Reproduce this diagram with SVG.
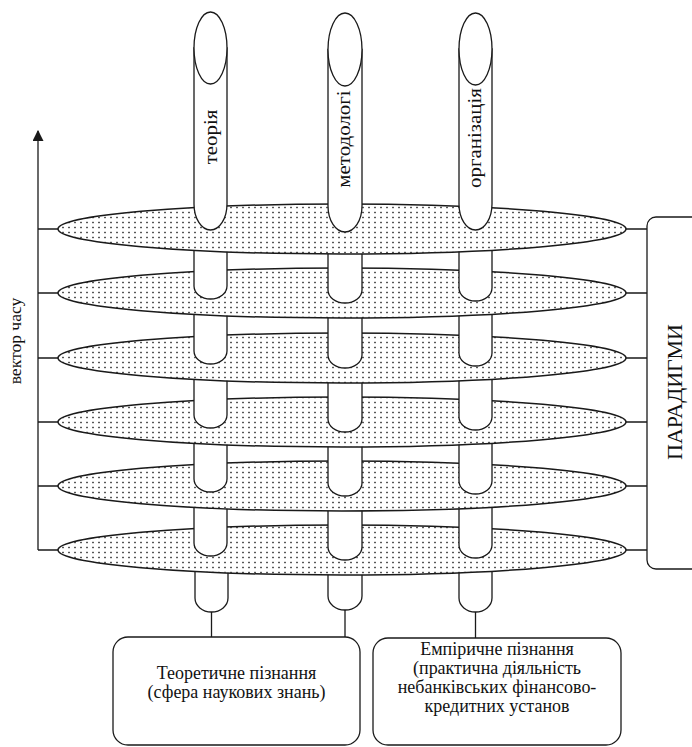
<svg xmlns="http://www.w3.org/2000/svg" width="692" height="747" viewBox="0 0 692 747">
<defs>
<pattern id="dots" width="6" height="5" patternUnits="userSpaceOnUse">
<rect width="6" height="5" fill="#fff"/>
<rect x="2.3" y="1.8" width="1.4" height="1.4" fill="#111"/>
</pattern>
<marker id="arr" viewBox="0 0 10 10" refX="9" refY="5" markerWidth="11" markerHeight="11" markerUnits="userSpaceOnUse" orient="auto">
<path d="M0,0 L10,5 L0,10 Z" fill="#1a1a1a"/>
</marker>
</defs>
<style>
.ln{stroke:#1a1a1a;stroke-width:1.3;fill:none}
.ell{fill:url(#dots);stroke:#1a1a1a;stroke-width:1.5}
.wh{fill:#fff;stroke:#1a1a1a;stroke-width:1.3}
.t{font-family:"Liberation Serif","Times New Roman",serif;fill:#111;text-anchor:middle}
.tb{font-size:18px}
.tc{font-size:19px}
</style>

<g id="connectors">
<line class="ln" x1="38" y1="550" x2="38" y2="131" marker-end="url(#arr)"/>
<path class="ln" d="M38,229H60M38,293H60M38,358H60M38,422H60M38,486H60M38,550H60"/>
<path class="ln" d="M624,229H647M624,293H647M624,358H647M624,422H647M624,486H647M624,550H647"/>
<path class="ln" d="M211.5,612V637M345,610V637M475.5,612V638"/>
</g>

<g id="roots">
<path class="wh" d="M195,550V598A16.5,14 0 0 0 228,598V550Z"/>
<path class="wh" d="M328,550V596A17,14 0 0 0 362,596V550Z"/>
<path class="wh" d="M459,550V598A16.5,14 0 0 0 492,598V550Z"/>
</g>

<g id="paradigm6"><ellipse class="ell" cx="342" cy="550" rx="284" ry="25"/></g>
<g id="links5">
<path class="wh" d="M194,486V543A16.5,13 0 0 0 227,543V486Z"/>
<path class="wh" d="M328,486V547A17,13 0 0 0 362,547V486Z"/>
<path class="wh" d="M459,486V545A16.5,13 0 0 0 492,545V486Z"/>
</g>
<g id="paradigm5"><ellipse class="ell" cx="342" cy="486" rx="284" ry="25"/></g>
<g id="links4">
<path class="wh" d="M194,422V479A16.5,13 0 0 0 227,479V422Z"/>
<path class="wh" d="M328,422V483A17,13 0 0 0 362,483V422Z"/>
<path class="wh" d="M459,422V481A16.5,13 0 0 0 492,481V422Z"/>
</g>
<g id="paradigm4"><ellipse class="ell" cx="342" cy="422" rx="284" ry="25"/></g>
<g id="links3">
<path class="wh" d="M194,358V415A16.5,13 0 0 0 227,415V358Z"/>
<path class="wh" d="M328,358V419A17,13 0 0 0 362,419V358Z"/>
<path class="wh" d="M459,358V417A16.5,13 0 0 0 492,417V358Z"/>
</g>
<g id="paradigm3"><ellipse class="ell" cx="342" cy="358" rx="284" ry="25"/></g>
<g id="links2">
<path class="wh" d="M194,293V351A16.5,13 0 0 0 227,351V293Z"/>
<path class="wh" d="M328,293V355A17,13 0 0 0 362,355V293Z"/>
<path class="wh" d="M459,293V353A16.5,13 0 0 0 492,353V293Z"/>
</g>
<g id="paradigm2"><ellipse class="ell" cx="342" cy="293" rx="284" ry="25"/></g>
<g id="links1">
<path class="wh" d="M194,229V286A16.5,13 0 0 0 227,286V229Z"/>
<path class="wh" d="M328,229V290A17,13 0 0 0 362,290V229Z"/>
<path class="wh" d="M459,229V288A16.5,13 0 0 0 492,288V229Z"/>
</g>
<g id="paradigm1"><ellipse class="ell" cx="342" cy="229" rx="284" ry="25"/></g>

<g id="theory">
<path class="wh" d="M194,48V204A16.5,26 0 0 0 227,204V48Z"/>
<text class="t tc" transform="translate(217,137) rotate(-90) scale(1.1,1)">теорія</text>
<ellipse class="wh" cx="210.5" cy="48" rx="16.5" ry="36"/>
</g>
<g id="methodology">
<path class="wh" d="M328,49.5V206A17,26 0 0 0 362,206V49.5Z"/>
<text class="t tc" transform="translate(350,139) rotate(-90) scale(1.1,1)">методологі</text>
<ellipse class="wh" cx="345" cy="49.5" rx="17" ry="36.5"/>
</g>
<g id="organization">
<path class="wh" d="M459,49V204A16.5,26 0 0 0 492,204V49Z"/>
<text class="t tc" transform="translate(481,138) rotate(-90) scale(1.1,1)">організація</text>
<ellipse class="wh" cx="475.5" cy="49" rx="16.5" ry="36"/>
</g>

<g id="time-axis-label">
<text class="t" style="font-size:16px" transform="translate(21,341) rotate(-90) scale(1.1,1)">вектор часу</text>
</g>

<g id="paradigms">
<rect class="wh" x="647" y="217" width="60" height="352" rx="9"/>
<text class="t" style="font-size:22px" transform="translate(682,392) rotate(-90)">ПАРАДИГМИ</text>
</g>

<g id="theoretical">
<rect class="wh" x="113" y="637" width="247" height="108" rx="15"/>
<text class="t tb" transform="translate(236.5,679) scale(1,1.05)">Теоретичне пізнання</text>
<text class="t tb" transform="translate(236.5,698) scale(1,1.05)">(сфера наукових знань)</text>
</g>

<g id="empirical">
<rect class="wh" x="373" y="638" width="248" height="107" rx="15"/>
<text class="t tb" transform="translate(497,655) scale(1,1.05)">Емпіричне пізнання</text>
<text class="t tb" transform="translate(497,674) scale(1,1.05)">(практична діяльність</text>
<text class="t tb" transform="translate(497,693) scale(1,1.05)">небанківських фінансово-</text>
<text class="t tb" transform="translate(497,712) scale(1,1.05)">кредитних установ</text>
</g>
</svg>
